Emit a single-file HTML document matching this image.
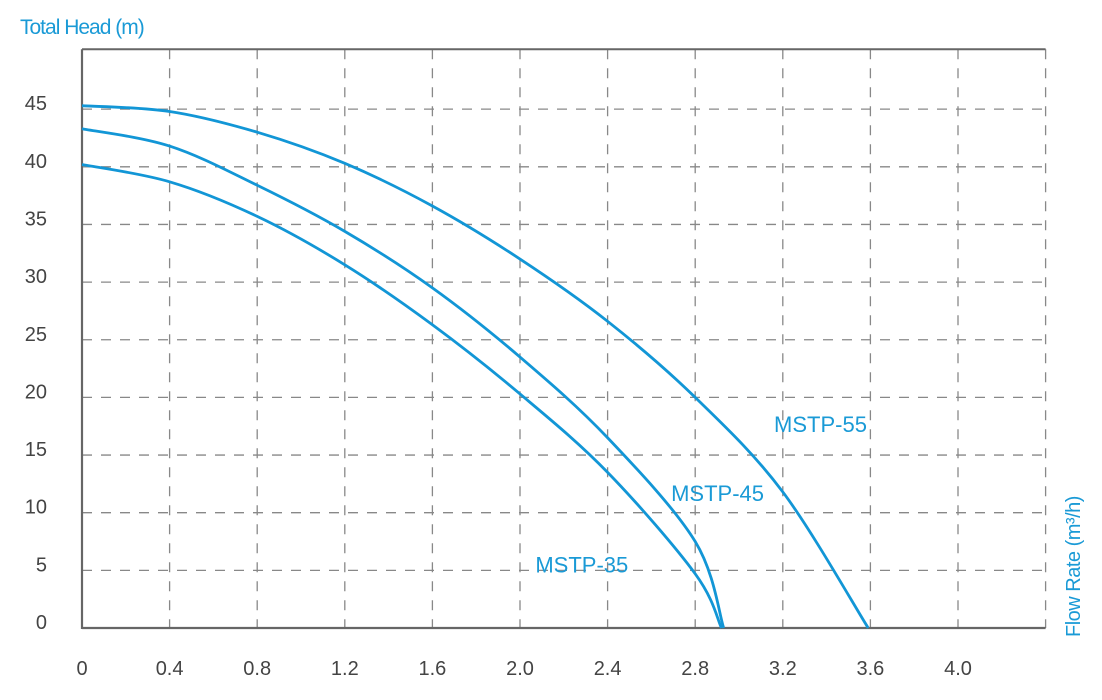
<!DOCTYPE html>
<html><head><meta charset="utf-8"><style>
body{margin:0;background:#fff;}
svg{display:block;font-family:"Liberation Sans",sans-serif;}
</style></head><body>
<svg width="1102" height="700">
<g id="grid"></g>
<g id="axes"></g>
<g id="curves"></g>
<text x="20" y="34" font-size="21" fill="#1a9ad6" letter-spacing="-1">Total Head (m)</text>
<text transform="translate(1080,637) rotate(-90)" font-size="20" fill="#1a9ad6" letter-spacing="-0.5">Flow Rate (m³/h)</text>
</svg>
<script>
const xTicks=[0,0.4,0.8,1.2,1.6,2.0,2.4,2.8,3.2,3.6,4.0];
const xTickLabels=["0","0.4","0.8","1.2","1.6","2.0","2.4","2.8","3.2","3.6","4.0"];
const yTicks=[0,5,10,15,20,25,30,35,40,45];
const seriesNames=["MSTP-35","MSTP-45","MSTP-55"];
const flow35=[0,0.4,0.8,1.2,1.6,2.0,2.4,2.8,2.92];
const head35=[40.2,38.7,35.7,31.5,26.3,20.3,13.5,4.7,0];
const flow45=[0,0.4,0.8,1.2,1.6,2.0,2.4,2.8,2.93];
const head45=[43.3,41.8,38.4,34.4,29.5,23.5,16.5,7.5,0];
const flow55=[0,0.4,0.8,1.2,1.6,2.0,2.4,2.8,3.2,3.59];
const head55=[45.3,44.8,43.0,40.3,36.6,32.0,26.6,20.0,11.8,0];
const labelPos=[[2.07,4.8],[2.69,11.0],[3.16,17.0]];
const X0=82,PX=219,Y0=628,PY=11.53,XMAX=4.4,YMAX=50.2;
const sx=v=>X0+v*PX, sy=v=>Y0-v*PY;
const NS="http://www.w3.org/2000/svg";
function mk(t,a,p){const e=document.createElementNS(NS,t);for(const k in a)e.setAttribute(k,a[k]);p.appendChild(e);return e;}
const grid=document.getElementById('grid'),axes=document.getElementById('axes'),curves=document.getElementById('curves');
xTicks.forEach((v,i)=>{if(v>0){const l=mk('line',{x1:sx(v),x2:sx(v),y1:sy(YMAX),y2:Y0,stroke:'#888','stroke-width':1.3,'stroke-dasharray':'10 9'},grid);

}
const t=mk('text',{x:sx(v),y:675,'font-size':20,fill:'#444','text-anchor':'middle'},axes);t.textContent=xTickLabels[i];

});
{const l=mk('line',{x1:sx(XMAX),x2:sx(XMAX),y1:sy(YMAX),y2:Y0,stroke:'#888','stroke-width':1.3,'stroke-dasharray':'10 9'},grid);

}
yTicks.forEach(v=>{if(v>0){const l=mk('line',{x1:X0,x2:sx(XMAX),y1:sy(v),y2:sy(v),stroke:'#888','stroke-width':1.3,'stroke-dasharray':'10 9'},grid);

}
const t=mk('text',{x:47,y:sy(v)+1,'font-size':20,fill:'#444','text-anchor':'end'},axes);t.textContent=v;

});
const topBorder=mk('line',{x1:X0,x2:sx(XMAX),y1:sy(YMAX),y2:sy(YMAX),stroke:'#666','stroke-width':2},axes);


const ya=mk('line',{x1:X0,x2:X0,y1:sy(YMAX),y2:Y0+1,stroke:'#666','stroke-width':2.2},axes);


const xa=mk('line',{x1:X0,x2:sx(XMAX),y1:Y0,y2:Y0,stroke:'#666','stroke-width':2.2},axes);


function path(xs,ys){const p=xs.map((x,i)=>[sx(x),sy(ys[i])]);let d='M'+p[0][0]+','+p[0][1];
for(let i=0;i<p.length-1;i++){const p0=p[i-1]||p[i],p1=p[i],p2=p[i+1],p3=p[i+2]||p2;
d+=' C'+(p1[0]+(p2[0]-p0[0])/6)+','+(p1[1]+(p2[1]-p0[1])/6)+' '+(p2[0]-(p3[0]-p1[0])/6)+','+(p2[1]-(p3[1]-p1[1])/6)+' '+p2[0]+','+p2[1];}return d;}
[[flow35,head35],[flow45,head45],[flow55,head55]].forEach((s,i)=>{
const e=mk('path',{d:path(s[0],s[1]),fill:'none',stroke:'#1296d6','stroke-width':2.8},curves);


const t=mk('text',{x:sx(labelPos[i][0]),y:sy(labelPos[i][1]),'font-size':22,fill:'#1a9ad6'},curves);t.textContent=seriesNames[i];

});
</script>
</body></html>
